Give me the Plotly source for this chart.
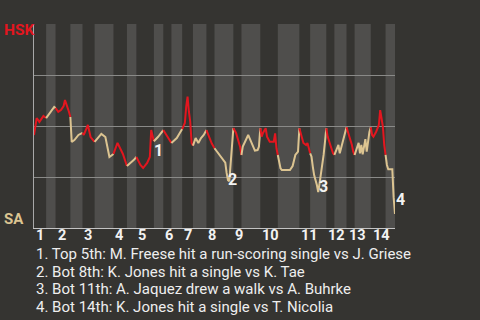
import plotly.graph_objects as go

# Game progress (event index) and home-team (HSK) win probability in percent
event_x = [0, 2, 4, 7, 8, 9,
           11, 13, 15, 16,
           18, 20, 22, 23, 25, 26, 27,
           28, 30, 33, 36,
           37, 40, 42, 45,
           47, 50, 53, 56, 58, 59,
           62, 66, 69,
           71, 74, 76,
           79, 81, 84, 86, 87, 89,
           92, 96,
           99, 102,
           106, 110,
           112, 113, 114, 115, 116, 117, 118,
           120, 122, 124, 126, 128,
           130, 132, 134,
           138, 140, 142, 143, 144, 145, 147, 148,
           150, 153, 154,
           155, 159, 163, 164, 166, 167, 168,
           169, 170, 172, 173, 175, 178, 179, 180, 181,
           183, 184, 190, 192, 194, 196, 197,
           199, 200, 202, 203, 204, 205,
           206, 207, 208, 210, 211, 212, 213, 214, 215, 216, 217,
           218, 220, 222, 223,
           225, 226, 227, 228, 229, 231, 232,
           234, 236, 237, 238,
           240, 241, 242, 243, 244, 245, 246, 247, 248, 249, 250,
           251, 252, 254, 256, 257, 258, 259, 260, 261,
           262, 263, 266, 267, 268]
win_pct = [45.6, 53.9, 52.0, 54.9, 54.4, 53.9,
           55.9, 57.4, 59.3, 58.8,
           56.9, 57.8, 59.8, 62.7, 59.3, 56.9, 54.4,
           42.2, 43.1, 45.6, 46.6,
           45.6, 50.5, 44.6, 42.2,
           43.6, 46.1, 44.6, 34.8, 35.8, 36.3,
           41.7, 36.3, 30.4,
           31.4, 33.3, 34.8,
           30.9, 29.4, 31.9, 34.8, 48.0, 42.5,
           44.6, 48.0,
           44.6, 41.7,
           44.1, 48.5,
           51.5, 59.5, 64.4, 57.0, 52.0, 41.7, 40.4,
           44.1, 41.7, 44.1, 45.6, 48.0,
           44.6, 41.4, 39.1,
           35.3, 33.8, 32.0, 27.0, 23.5, 23.0, 40.0, 49.0,
           46.6, 39.9, 35.8,
           39.9, 45.6, 39.9, 37.9, 38.2, 39.9, 48.9,
           44.8, 46.6, 48.9, 44.8, 42.3, 42.3, 46.4, 39.1, 35.8,
           29.3, 28.4, 28.4, 30.4, 35.8, 37.4, 48.9,
           44.0, 41.7, 40.7, 41.7, 39.2, 36.6,
           35.0, 30.0, 25.8, 21.1, 17.6, 21.9, 26.0, 30.9, 35.8, 42.2, 48.9,
           44.8, 40.7, 36.6, 35.8,
           39.1, 40.7, 36.6, 39.1, 42.2, 47.1, 49.4,
           45.6, 40.7, 37.4, 35.8,
           39.9, 41.7, 36.6, 40.7, 36.1, 40.4, 43.6, 37.4, 43.1, 47.1, 49.4,
           45.6, 44.8, 47.2, 50.5, 57.8, 53.8, 49.7, 40.7, 35.8,
           30.9, 28.8, 28.8, 15.0, 6.9]

# Start event of each half inning (top 1, bot 1, top 2, ...), plus game end
half_bounds = [0, 9, 16, 27, 36, 45, 59, 69, 76, 89, 96, 102, 110, 118, 128,
               134, 148, 154, 168, 181, 197, 205, 217, 223, 232, 238, 250, 261, 268]
inning_labels = [str(i) for i in range(1, 15)]

# Key plays (label anchored just right of the play's point)
key_labels = ["1", "2", "3", "4"]
key_x = [88.5, 143.5, 211.0, 268.0]
key_y = [38.2, 24.0, 20.3, 14.1]
key_notes = [
    "1. Top 5th: M. Freese hit a run-scoring single vs J. Griese",
    "2. Bot 8th: K. Jones hit a single vs K. Tae",
    "3. Bot 11th: A. Jaquez drew a walk vs A. Buhrke",
    "4. Bot 14th: K. Jones hit a single vs T. Nicolia",
]
team_top = "HSK"
team_bottom = "SA"

RED = "#e3161f"
TAN = "#dcc491"
BG = "#353431"
BAND = "#4f4e4c"
FONT = "Roboto"

fig = go.Figure()

# half-inning bands (bottom halves lighter)
for i in range(len(half_bounds) - 1):
    if i % 2 == 1:
        fig.add_shape(type="rect", xref="x", yref="paper",
                      x0=half_bounds[i], x1=half_bounds[i + 1], y0=0, y1=1,
                      fillcolor=BAND, line_width=0, layer="below")

# line segments coloured by half inning
for i in range(len(half_bounds) - 1):
    lo, hi = half_bounds[i], half_bounds[i + 1]
    xs = [x for x in event_x if lo <= x <= hi]
    ys = [y for x, y in zip(event_x, win_pct) if lo <= x <= hi]
    fig.add_trace(go.Scatter(x=xs, y=ys, mode="lines",
                             line=dict(color=RED if i % 2 == 0 else TAN, width=2),
                             hoverinfo="skip", showlegend=False))

# inning tick labels
for k, lab in enumerate(inning_labels):
    fig.add_annotation(x=half_bounds[2 * k], y=-0.039, xref="x", yref="paper",
                       text=lab, showarrow=False, xanchor="left", yanchor="middle",
                       borderpad=0, xshift=1,
                       font=dict(family=FONT, size=14.5, color="#f2f2f2", weight="bold"))

# key play markers
for lab, kx, ky in zip(key_labels, key_x, key_y):
    fig.add_annotation(x=kx, y=ky, xref="x", yref="y", text=lab, showarrow=False,
                       xanchor="left", yanchor="middle", borderpad=0,
                       font=dict(family=FONT, size=16, color="#f2f2f2", weight="bold"))

# notes
note_y = [-0.1275, -0.2135, -0.3005, -0.3875]
for txt, ny in zip(key_notes, note_y):
    fig.add_annotation(x=0.002, y=ny, xref="paper", yref="paper", text=txt,
                       showarrow=False, xanchor="left", yanchor="middle",
                       borderpad=0,
                       font=dict(family=FONT, size=15, color="#eeeeee"))

# team labels
fig.add_annotation(x=-0.09, y=0.971, xref="paper", yref="paper", text=team_top,
                   showarrow=False, xanchor="left", yanchor="middle",
                   font=dict(family=FONT, size=15.5, color=RED, weight="bold"))
fig.add_annotation(x=-0.09, y=0.044, xref="paper", yref="paper", text=team_bottom,
                   showarrow=False, xanchor="left", yanchor="middle",
                   font=dict(family=FONT, size=15, color=TAN, weight="bold"))

fig.update_layout(
    width=480, height=320,
    margin=dict(l=34, r=85, t=24, b=92),
    paper_bgcolor=BG, plot_bgcolor=BG,
    xaxis=dict(range=[half_bounds[0], half_bounds[-1]], showgrid=False, zeroline=False,
               showticklabels=False, ticks="", showline=True, linecolor="#c4c4c4", linewidth=1),
    yaxis=dict(range=[0, 100], tickvals=[0, 25, 50, 75, 100], showticklabels=False,
               ticks="", showgrid=True, gridcolor="#8a8a88", gridwidth=1, zeroline=False,
               showline=True, linecolor="#a8a8a8", linewidth=1),
)

fig.write_html("out.html")
